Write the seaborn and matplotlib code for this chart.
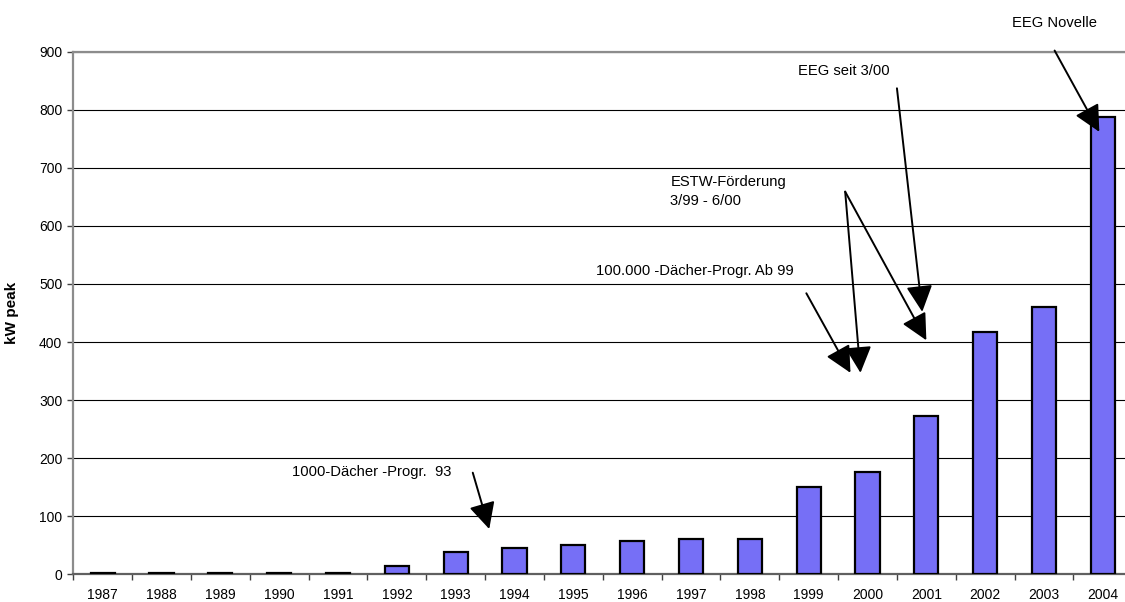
import matplotlib
matplotlib.use("Agg")
import matplotlib.pyplot as plt
from matplotlib.ticker import FixedLocator
import seaborn as sns
import pandas as pd

# Installed photovoltaic capacity per year
years = ["1987", "1988", "1989", "1990", "1991", "1992", "1993", "1994", "1995",
         "1996", "1997", "1998", "1999", "2000", "2001", "2002", "2003", "2004"]
kw_peak = [2, 2, 3, 3, 3, 14, 38, 45, 50, 58, 60, 60, 150, 176, 273, 417, 461, 787]
y_ticks = [0, 100, 200, 300, 400, 500, 600, 700, 800, 900]

# Program milestones: (text, text position, [(arrow start, arrow tip), ...])
notes = [
    ("EEG Novelle", (15.46, 950), [((16.18, 902), (16.94, 762))]),
    ("EEG seit 3/00", (11.82, 867), [((13.50, 837), (13.93, 452))]),
    ("ESTW-Förderung\n3/99 - 6/00", (9.65, 660),
     [((12.62, 659), (12.88, 347)), ((12.62, 659), (14.00, 403))]),
    ("100.000 -Dächer-Progr. Ab 99", (8.38, 523), [((11.96, 484), (12.71, 347))]),
    ("1000-Dächer -Progr.  93", (3.22, 177), [((6.29, 175), (6.57, 78))]),
]

sns.set_theme(style="white")
plt.rcParams["font.family"] = ["Liberation Sans", "DejaVu Sans"]

df = pd.DataFrame({"Jahr": years, "kW peak": kw_peak})

fig = plt.figure(figsize=(11.25, 6.02), dpi=100)
ax = fig.add_axes([0.06516, 0.0460, 0.9413, 0.8681])

sns.barplot(data=df, x="Jahr", y="kW peak", color="#766FF6", saturation=1,
            width=0.41, edgecolor="black", linewidth=1.6, ax=ax, zorder=3)

ax.set_xlim(-0.5, len(years) - 0.5)
ax.set_ylim(0, 900)
ax.set_yticks(y_ticks)
ax.yaxis.grid(True, color="black", linewidth=0.8)
ax.set_axisbelow(True)

# Tick marks between the categories, labels centred under each bar
ax.xaxis.set_minor_locator(FixedLocator([i - 0.5 for i in range(len(years) + 1)]))
ax.tick_params(axis="x", which="major", length=0, pad=9.5, labelsize=10, colors="black")
ax.tick_params(axis="x", which="minor", length=4.5, width=1, color="#404040",
               direction="out", bottom=True)
ax.tick_params(axis="y", which="major", length=4, width=1, color="#404040",
               direction="out", left=True, pad=4, labelsize=10, labelcolor="black")

for side in ["left", "bottom", "top", "right"]:
    ax.spines[side].set_color("#8c8c8c")
    ax.spines[side].set_linewidth(1.6)
ax.spines["bottom"].set_color("#606060")

ax.set_xlabel("")
ax.set_ylabel("kW peak", fontsize=11, fontweight="bold", color="black")
ax.yaxis.set_label_coords(-0.0513, 0.5)

for text, pos, arrows in notes:
    ax.text(pos[0], pos[1], text, fontsize=10.6, ha="left", va="center",
            linespacing=1.45, color="black", zorder=5)
    for start, tip in arrows:
        ax.annotate("", xy=tip, xytext=start,
                    arrowprops=dict(arrowstyle="-|>,head_length=0.9,head_width=0.45",
                                    mutation_scale=18, color="black", lw=1.4,
                                    shrinkA=0, shrinkB=0),
                    annotation_clip=False, zorder=5)

fig.savefig("out.png", dpi=100)
